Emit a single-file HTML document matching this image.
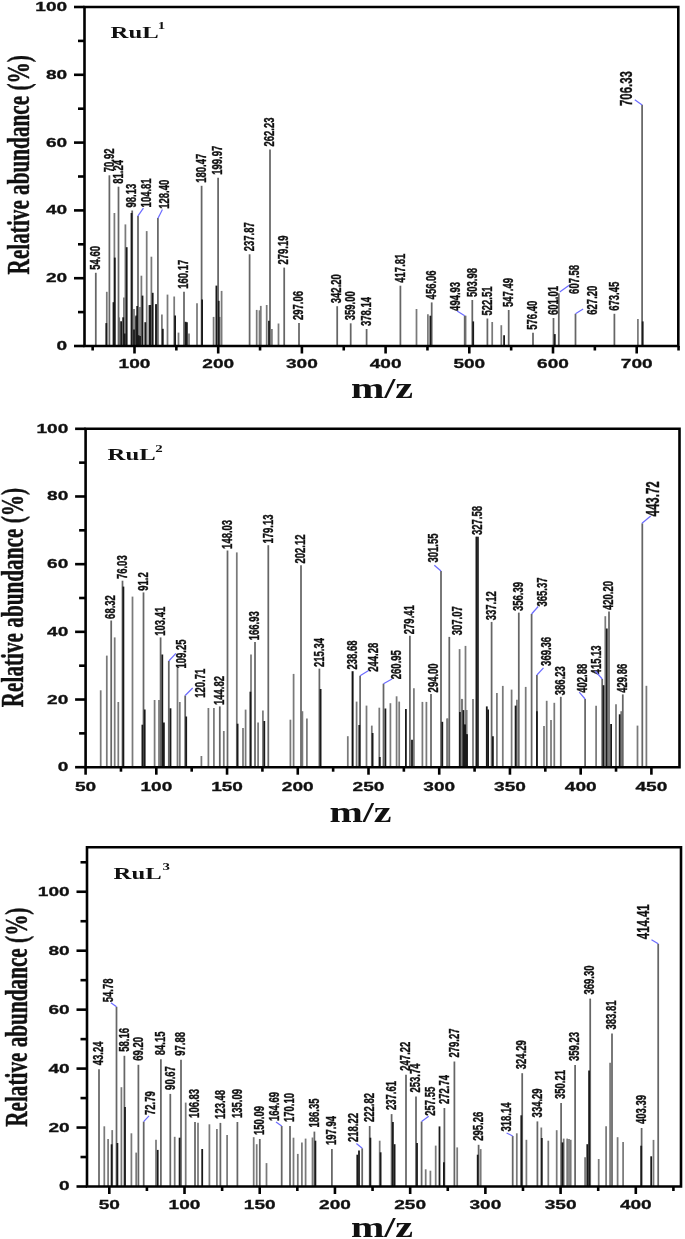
<!DOCTYPE html>
<html><head><meta charset="utf-8"><title>Mass spectra</title>
<style>
html,body{margin:0;padding:0;background:#fff;}
svg{display:block;will-change:transform;opacity:0.999;}
text{font-variant-ligatures:none;font-feature-settings:"liga" 0,"clig" 0,"dlig" 0;font-kerning:none;}
.lb{font-family:"Liberation Sans",sans-serif;font-weight:bold;fill:#111;stroke:#111;stroke-width:0.25px;}
.tk{font-family:"Liberation Sans",sans-serif;font-weight:bold;font-size:12.9px;fill:#111;stroke:#111;stroke-width:0.3px;}
.tt{font-family:"Liberation Serif",serif;font-weight:bold;font-size:17.4px;fill:#111;}
.sp{font-family:"Liberation Serif",serif;font-weight:bold;font-size:10.5px;fill:#111;}
.yl{font-family:"Liberation Serif",serif;font-weight:bold;font-size:21.23px;fill:#111;stroke:#111;stroke-width:0.3px;}
.mz{font-family:"Liberation Serif",serif;font-weight:bold;font-size:29.0px;fill:#111;}
</style></head>
<body>
<svg width="685" height="1239" viewBox="0 0 685 1239">
<rect width="685" height="1239" fill="#fff"/>
<line x1="106.8" y1="291.8" x2="106.8" y2="346" stroke="#7a7a7a" stroke-width="1.75"/>
<line x1="114.4" y1="213" x2="114.4" y2="346" stroke="#7a7a7a" stroke-width="1.75"/>
<line x1="119.2" y1="317.4" x2="119.2" y2="346" stroke="#7a7a7a" stroke-width="1.75"/>
<line x1="123.9" y1="297.5" x2="123.9" y2="346" stroke="#7a7a7a" stroke-width="1.75"/>
<line x1="125.4" y1="224.4" x2="125.4" y2="346" stroke="#7a7a7a" stroke-width="1.75"/>
<line x1="134" y1="308.9" x2="134" y2="346" stroke="#7a7a7a" stroke-width="1.75"/>
<line x1="135.9" y1="316.5" x2="135.9" y2="346" stroke="#7a7a7a" stroke-width="1.75"/>
<line x1="140" y1="307" x2="140" y2="346" stroke="#7a7a7a" stroke-width="1.75"/>
<line x1="141.4" y1="275.7" x2="141.4" y2="346" stroke="#7a7a7a" stroke-width="1.75"/>
<line x1="146.7" y1="231.1" x2="146.7" y2="346" stroke="#7a7a7a" stroke-width="1.75"/>
<line x1="151.4" y1="256.7" x2="151.4" y2="346" stroke="#7a7a7a" stroke-width="1.75"/>
<line x1="156.2" y1="304.1" x2="156.2" y2="346" stroke="#7a7a7a" stroke-width="1.75"/>
<line x1="161.9" y1="314.6" x2="161.9" y2="346" stroke="#7a7a7a" stroke-width="1.75"/>
<line x1="167.5" y1="294.6" x2="167.5" y2="346" stroke="#7a7a7a" stroke-width="1.75"/>
<line x1="174.2" y1="296.5" x2="174.2" y2="346" stroke="#7a7a7a" stroke-width="1.75"/>
<line x1="178.5" y1="332.6" x2="178.5" y2="346" stroke="#7a7a7a" stroke-width="1.75"/>
<line x1="189" y1="333.5" x2="189" y2="346" stroke="#7a7a7a" stroke-width="1.75"/>
<line x1="197" y1="303.2" x2="197" y2="346" stroke="#7a7a7a" stroke-width="1.75"/>
<line x1="213.6" y1="316.9" x2="213.6" y2="346" stroke="#7a7a7a" stroke-width="1.75"/>
<line x1="219.7" y1="316.9" x2="219.7" y2="346" stroke="#7a7a7a" stroke-width="1.75"/>
<line x1="221.6" y1="290.9" x2="221.6" y2="346" stroke="#7a7a7a" stroke-width="1.75"/>
<line x1="256.7" y1="309.9" x2="256.7" y2="346" stroke="#7a7a7a" stroke-width="1.75"/>
<line x1="259.5" y1="310.3" x2="259.5" y2="346" stroke="#7a7a7a" stroke-width="1.75"/>
<line x1="260.8" y1="305.9" x2="260.8" y2="346" stroke="#7a7a7a" stroke-width="1.75"/>
<line x1="266.7" y1="305" x2="266.7" y2="346" stroke="#7a7a7a" stroke-width="1.75"/>
<line x1="271.9" y1="328.9" x2="271.9" y2="346" stroke="#7a7a7a" stroke-width="1.75"/>
<line x1="278.5" y1="323.5" x2="278.5" y2="346" stroke="#7a7a7a" stroke-width="1.75"/>
<line x1="416.5" y1="309" x2="416.5" y2="346" stroke="#7a7a7a" stroke-width="1.75"/>
<line x1="427.9" y1="314.3" x2="427.9" y2="346" stroke="#7a7a7a" stroke-width="1.75"/>
<line x1="465.6" y1="315.7" x2="465.6" y2="346" stroke="#7a7a7a" stroke-width="1.75"/>
<line x1="492.2" y1="322" x2="492.2" y2="346" stroke="#7a7a7a" stroke-width="1.75"/>
<line x1="501.3" y1="325.2" x2="501.3" y2="346" stroke="#7a7a7a" stroke-width="1.75"/>
<line x1="637.9" y1="318.9" x2="637.9" y2="346" stroke="#7a7a7a" stroke-width="1.75"/>
<line x1="95.8" y1="272.8" x2="95.8" y2="346" stroke="#666" stroke-width="1.75"/>
<line x1="109.4" y1="175.3" x2="109.4" y2="346" stroke="#666" stroke-width="1.75"/>
<line x1="118.5" y1="186.7" x2="118.5" y2="346" stroke="#666" stroke-width="1.75"/>
<line x1="132.2" y1="210.5" x2="132.2" y2="346" stroke="#666" stroke-width="1.75"/>
<line x1="138" y1="216" x2="138" y2="346" stroke="#666" stroke-width="1.75"/>
<line x1="157.9" y1="218" x2="157.9" y2="346" stroke="#666" stroke-width="1.75"/>
<line x1="184" y1="291.8" x2="184" y2="346" stroke="#666" stroke-width="1.75"/>
<line x1="201.6" y1="185.8" x2="201.6" y2="346" stroke="#666" stroke-width="1.75"/>
<line x1="218.1" y1="177.8" x2="218.1" y2="346" stroke="#666" stroke-width="1.75"/>
<line x1="249.6" y1="254.3" x2="249.6" y2="346" stroke="#666" stroke-width="1.75"/>
<line x1="270" y1="149.5" x2="270" y2="346" stroke="#666" stroke-width="1.75"/>
<line x1="284.2" y1="267.6" x2="284.2" y2="346" stroke="#666" stroke-width="1.75"/>
<line x1="299" y1="323" x2="299" y2="346" stroke="#666" stroke-width="1.75"/>
<line x1="337.2" y1="306.2" x2="337.2" y2="346" stroke="#666" stroke-width="1.75"/>
<line x1="350.7" y1="323.3" x2="350.7" y2="346" stroke="#666" stroke-width="1.75"/>
<line x1="366.6" y1="329" x2="366.6" y2="346" stroke="#666" stroke-width="1.75"/>
<line x1="400.4" y1="285.7" x2="400.4" y2="346" stroke="#666" stroke-width="1.75"/>
<line x1="431.7" y1="302.4" x2="431.7" y2="346" stroke="#666" stroke-width="1.75"/>
<line x1="464.7" y1="315.7" x2="464.7" y2="346" stroke="#666" stroke-width="1.75"/>
<line x1="472.3" y1="300" x2="472.3" y2="346" stroke="#666" stroke-width="1.75"/>
<line x1="487.4" y1="318.5" x2="487.4" y2="346" stroke="#666" stroke-width="1.75"/>
<line x1="508.7" y1="310" x2="508.7" y2="346" stroke="#666" stroke-width="1.75"/>
<line x1="533" y1="332.7" x2="533" y2="346" stroke="#666" stroke-width="1.75"/>
<line x1="553.5" y1="318" x2="553.5" y2="346" stroke="#666" stroke-width="1.75"/>
<line x1="558.8" y1="293.3" x2="558.8" y2="346" stroke="#666" stroke-width="1.75"/>
<line x1="575.5" y1="313.8" x2="575.5" y2="346" stroke="#666" stroke-width="1.75"/>
<line x1="614.4" y1="313.8" x2="614.4" y2="346" stroke="#666" stroke-width="1.75"/>
<line x1="642.1" y1="104.8" x2="642.1" y2="346" stroke="#666" stroke-width="1.75"/>
<line x1="106.3" y1="323.1" x2="106.3" y2="346" stroke="#1a1a1a" stroke-width="1.8"/>
<line x1="114.8" y1="257.6" x2="114.8" y2="346" stroke="#1a1a1a" stroke-width="1.8"/>
<line x1="113.5" y1="302.2" x2="113.5" y2="346" stroke="#1a1a1a" stroke-width="1.8"/>
<line x1="121.1" y1="321.2" x2="121.1" y2="346" stroke="#1a1a1a" stroke-width="1.8"/>
<line x1="126.7" y1="247.2" x2="126.7" y2="346" stroke="#1a1a1a" stroke-width="1.8"/>
<line x1="124.8" y1="333.5" x2="124.8" y2="346" stroke="#1a1a1a" stroke-width="1.8"/>
<line x1="131.5" y1="213" x2="131.5" y2="346" stroke="#1a1a1a" stroke-width="1.8"/>
<line x1="137.2" y1="306" x2="137.2" y2="346" stroke="#1a1a1a" stroke-width="1.8"/>
<line x1="142.5" y1="295.6" x2="142.5" y2="346" stroke="#1a1a1a" stroke-width="1.8"/>
<line x1="145.3" y1="322.2" x2="145.3" y2="346" stroke="#1a1a1a" stroke-width="1.8"/>
<line x1="149.5" y1="305.1" x2="149.5" y2="346" stroke="#1a1a1a" stroke-width="1.8"/>
<line x1="152.7" y1="292.8" x2="152.7" y2="346" stroke="#1a1a1a" stroke-width="1.8"/>
<line x1="162.8" y1="328.8" x2="162.8" y2="346" stroke="#1a1a1a" stroke-width="1.8"/>
<line x1="175.1" y1="315.5" x2="175.1" y2="346" stroke="#1a1a1a" stroke-width="1.8"/>
<line x1="185.6" y1="321.8" x2="185.6" y2="346" stroke="#1a1a1a" stroke-width="1.8"/>
<line x1="186.9" y1="322.2" x2="186.9" y2="346" stroke="#1a1a1a" stroke-width="1.8"/>
<line x1="202.1" y1="299.4" x2="202.1" y2="346" stroke="#1a1a1a" stroke-width="1.8"/>
<line x1="216.4" y1="285.6" x2="216.4" y2="346" stroke="#1a1a1a" stroke-width="1.8"/>
<line x1="218.7" y1="300.8" x2="218.7" y2="346" stroke="#1a1a1a" stroke-width="1.8"/>
<line x1="269" y1="320.7" x2="269" y2="346" stroke="#1a1a1a" stroke-width="1.8"/>
<line x1="123.2" y1="317.3" x2="123.2" y2="346" stroke="#1a1a1a" stroke-width="1.8"/>
<line x1="134" y1="329.6" x2="134" y2="346" stroke="#1a1a1a" stroke-width="1.8"/>
<line x1="136.3" y1="315.5" x2="136.3" y2="346" stroke="#1a1a1a" stroke-width="1.8"/>
<line x1="138.6" y1="335.2" x2="138.6" y2="346" stroke="#1a1a1a" stroke-width="1.8"/>
<line x1="140" y1="336" x2="140" y2="346" stroke="#1a1a1a" stroke-width="1.8"/>
<line x1="150.3" y1="305" x2="150.3" y2="346" stroke="#1a1a1a" stroke-width="1.8"/>
<line x1="156" y1="304.2" x2="156" y2="346" stroke="#1a1a1a" stroke-width="1.8"/>
<line x1="430.4" y1="315.7" x2="430.4" y2="346" stroke="#1a1a1a" stroke-width="1.8"/>
<line x1="473.2" y1="321.4" x2="473.2" y2="346" stroke="#1a1a1a" stroke-width="1.8"/>
<line x1="504.1" y1="335.2" x2="504.1" y2="346" stroke="#1a1a1a" stroke-width="1.8"/>
<line x1="554.8" y1="334.1" x2="554.8" y2="346" stroke="#1a1a1a" stroke-width="1.8"/>
<line x1="642.7" y1="321.4" x2="642.7" y2="346" stroke="#1a1a1a" stroke-width="1.8"/>
<text transform="translate(100.03,269.8) rotate(-90) scale(1,1.52)" class="lb" font-size="9.5">54.60</text>
<text transform="translate(113.63,172.3) rotate(-90) scale(1,1.52)" class="lb" font-size="9.5">70.92</text>
<text transform="translate(122.73,183.7) rotate(-90) scale(1,1.52)" class="lb" font-size="9.5">81.24</text>
<text transform="translate(136.43,207.5) rotate(-90) scale(1,1.52)" class="lb" font-size="9.5">98.13</text>
<text transform="translate(151.43,207.4) rotate(-90) scale(1,1.52)" class="lb" font-size="9.5">104.81</text>
<line x1="137.8" y1="216.1" x2="143.4" y2="208.1" stroke="#6b6bff" stroke-width="1.2"/>
<text transform="translate(168.93,208.8) rotate(-90) scale(1,1.52)" class="lb" font-size="9.5">128.40</text>
<line x1="158" y1="218.3" x2="162.4" y2="209.6" stroke="#6b6bff" stroke-width="1.2"/>
<text transform="translate(188.23,288.8) rotate(-90) scale(1,1.52)" class="lb" font-size="9.5">160.17</text>
<text transform="translate(205.83,182.8) rotate(-90) scale(1,1.52)" class="lb" font-size="9.5">180.47</text>
<text transform="translate(222.33,174.8) rotate(-90) scale(1,1.52)" class="lb" font-size="9.5">199.97</text>
<text transform="translate(253.83,251.3) rotate(-90) scale(1,1.52)" class="lb" font-size="9.5">237.87</text>
<text transform="translate(274.23,146.5) rotate(-90) scale(1,1.52)" class="lb" font-size="9.5">262.23</text>
<text transform="translate(288.43,264.6) rotate(-90) scale(1,1.52)" class="lb" font-size="9.5">279.19</text>
<text transform="translate(303.23,320) rotate(-90) scale(1,1.52)" class="lb" font-size="9.5">297.06</text>
<text transform="translate(341.43,303.2) rotate(-90) scale(1,1.52)" class="lb" font-size="9.5">342.20</text>
<text transform="translate(354.93,320.3) rotate(-90) scale(1,1.52)" class="lb" font-size="9.5">359.00</text>
<text transform="translate(370.83,326) rotate(-90) scale(1,1.52)" class="lb" font-size="9.5">378.14</text>
<text transform="translate(404.63,282.7) rotate(-90) scale(1,1.52)" class="lb" font-size="9.5">417.81</text>
<text transform="translate(435.93,299.4) rotate(-90) scale(1,1.52)" class="lb" font-size="9.5">456.06</text>
<text transform="translate(459.93,310.9) rotate(-90) scale(1,1.52)" class="lb" font-size="9.5">494.93</text>
<line x1="464.7" y1="315.7" x2="457.1" y2="310.9" stroke="#6b6bff" stroke-width="1.2"/>
<text transform="translate(476.53,297) rotate(-90) scale(1,1.52)" class="lb" font-size="9.5">503.98</text>
<text transform="translate(491.63,315.5) rotate(-90) scale(1,1.52)" class="lb" font-size="9.5">522.51</text>
<text transform="translate(512.93,307) rotate(-90) scale(1,1.52)" class="lb" font-size="9.5">547.49</text>
<text transform="translate(537.23,329.7) rotate(-90) scale(1,1.52)" class="lb" font-size="9.5">576.40</text>
<text transform="translate(557.73,315) rotate(-90) scale(1,1.52)" class="lb" font-size="9.5">601.01</text>
<text transform="translate(579.13,293.9) rotate(-90) scale(1,1.52)" class="lb" font-size="9.5">607.58</text>
<line x1="559.7" y1="292" x2="569.2" y2="285.3" stroke="#6b6bff" stroke-width="1.2"/>
<text transform="translate(597.13,314.7) rotate(-90) scale(1,1.52)" class="lb" font-size="9.5">627.20</text>
<line x1="575.5" y1="313.8" x2="583.1" y2="309" stroke="#6b6bff" stroke-width="1.2"/>
<text transform="translate(618.63,310.8) rotate(-90) scale(1,1.52)" class="lb" font-size="9.5">673.45</text>
<text transform="translate(632.45,106) rotate(-90) scale(1,1.52)" class="lb" font-size="11.4">706.33</text>
<line x1="642.1" y1="105" x2="634.8" y2="99.8" stroke="#6b6bff" stroke-width="1.2"/>
<path d="M84.5,7 H678.3 V346 H84.5 Z" fill="none" stroke="#000" stroke-width="2.6"/>
<line x1="74" y1="346" x2="84.5" y2="346" stroke="#000" stroke-width="2.6"/>
<text transform="translate(67.2,349.98) scale(1.48,1)" class="tk" text-anchor="end">0</text>
<line x1="78" y1="312.1" x2="84.5" y2="312.1" stroke="#000" stroke-width="2.6"/>
<line x1="74" y1="278.2" x2="84.5" y2="278.2" stroke="#000" stroke-width="2.6"/>
<text transform="translate(67.2,282.18) scale(1.48,1)" class="tk" text-anchor="end">20</text>
<line x1="78" y1="244.3" x2="84.5" y2="244.3" stroke="#000" stroke-width="2.6"/>
<line x1="74" y1="210.4" x2="84.5" y2="210.4" stroke="#000" stroke-width="2.6"/>
<text transform="translate(67.2,214.38) scale(1.48,1)" class="tk" text-anchor="end">40</text>
<line x1="78" y1="176.5" x2="84.5" y2="176.5" stroke="#000" stroke-width="2.6"/>
<line x1="74" y1="142.6" x2="84.5" y2="142.6" stroke="#000" stroke-width="2.6"/>
<text transform="translate(67.2,146.58) scale(1.48,1)" class="tk" text-anchor="end">60</text>
<line x1="78" y1="108.7" x2="84.5" y2="108.7" stroke="#000" stroke-width="2.6"/>
<line x1="74" y1="74.8" x2="84.5" y2="74.8" stroke="#000" stroke-width="2.6"/>
<text transform="translate(67.2,78.78) scale(1.48,1)" class="tk" text-anchor="end">80</text>
<line x1="78" y1="40.9" x2="84.5" y2="40.9" stroke="#000" stroke-width="2.6"/>
<line x1="74" y1="7" x2="84.5" y2="7" stroke="#000" stroke-width="2.6"/>
<text transform="translate(67.2,10.98) scale(1.48,1)" class="tk" text-anchor="end">100</text>
<line x1="92.65" y1="346" x2="92.65" y2="350.5" stroke="#000" stroke-width="2.6"/>
<line x1="134.5" y1="346" x2="134.5" y2="353.5" stroke="#000" stroke-width="2.6"/>
<text transform="translate(134.5,368.38) scale(1.48,1)" class="tk" text-anchor="middle">100</text>
<line x1="176.35" y1="346" x2="176.35" y2="350.5" stroke="#000" stroke-width="2.6"/>
<line x1="218.2" y1="346" x2="218.2" y2="353.5" stroke="#000" stroke-width="2.6"/>
<text transform="translate(218.2,368.38) scale(1.48,1)" class="tk" text-anchor="middle">200</text>
<line x1="260.05" y1="346" x2="260.05" y2="350.5" stroke="#000" stroke-width="2.6"/>
<line x1="301.9" y1="346" x2="301.9" y2="353.5" stroke="#000" stroke-width="2.6"/>
<text transform="translate(301.9,368.38) scale(1.48,1)" class="tk" text-anchor="middle">300</text>
<line x1="343.75" y1="346" x2="343.75" y2="350.5" stroke="#000" stroke-width="2.6"/>
<line x1="385.6" y1="346" x2="385.6" y2="353.5" stroke="#000" stroke-width="2.6"/>
<text transform="translate(385.6,368.38) scale(1.48,1)" class="tk" text-anchor="middle">400</text>
<line x1="427.45" y1="346" x2="427.45" y2="350.5" stroke="#000" stroke-width="2.6"/>
<line x1="469.3" y1="346" x2="469.3" y2="353.5" stroke="#000" stroke-width="2.6"/>
<text transform="translate(469.3,368.38) scale(1.48,1)" class="tk" text-anchor="middle">500</text>
<line x1="511.15" y1="346" x2="511.15" y2="350.5" stroke="#000" stroke-width="2.6"/>
<line x1="553" y1="346" x2="553" y2="353.5" stroke="#000" stroke-width="2.6"/>
<text transform="translate(553,368.38) scale(1.48,1)" class="tk" text-anchor="middle">600</text>
<line x1="594.85" y1="346" x2="594.85" y2="350.5" stroke="#000" stroke-width="2.6"/>
<line x1="636.7" y1="346" x2="636.7" y2="353.5" stroke="#000" stroke-width="2.6"/>
<text transform="translate(636.7,368.38) scale(1.48,1)" class="tk" text-anchor="middle">700</text>
<line x1="678.55" y1="346" x2="678.55" y2="350.5" stroke="#000" stroke-width="2.6"/>
<text transform="translate(110.6,38.3) scale(1.42,1)" class="tt">RuL</text>
<text transform="translate(157.8,29.2) scale(1.42,1)" class="sp">1</text>
<text transform="translate(29.3,164.8) rotate(-90) scale(1,1.49)" class="yl" text-anchor="middle">Relative abundance (%)</text>
<text transform="translate(350.9,398.4) scale(1.38,1)" class="mz">m/z</text>
<line x1="100.7" y1="690.3" x2="100.7" y2="767.2" stroke="#7a7a7a" stroke-width="1.75"/>
<line x1="106.8" y1="655.6" x2="106.8" y2="767.2" stroke="#7a7a7a" stroke-width="1.75"/>
<line x1="114.7" y1="637.4" x2="114.7" y2="767.2" stroke="#7a7a7a" stroke-width="1.75"/>
<line x1="118.3" y1="702" x2="118.3" y2="767.2" stroke="#7a7a7a" stroke-width="1.75"/>
<line x1="132.5" y1="596.6" x2="132.5" y2="767.2" stroke="#7a7a7a" stroke-width="1.75"/>
<line x1="154.6" y1="700" x2="154.6" y2="767.2" stroke="#7a7a7a" stroke-width="1.75"/>
<line x1="159" y1="700" x2="159" y2="767.2" stroke="#7a7a7a" stroke-width="1.75"/>
<line x1="177.5" y1="667.4" x2="177.5" y2="767.2" stroke="#7a7a7a" stroke-width="1.75"/>
<line x1="179.8" y1="702" x2="179.8" y2="767.2" stroke="#7a7a7a" stroke-width="1.75"/>
<line x1="201.4" y1="756" x2="201.4" y2="767.2" stroke="#7a7a7a" stroke-width="1.75"/>
<line x1="208.4" y1="708" x2="208.4" y2="767.2" stroke="#7a7a7a" stroke-width="1.75"/>
<line x1="213.9" y1="708" x2="213.9" y2="767.2" stroke="#7a7a7a" stroke-width="1.75"/>
<line x1="223.8" y1="731" x2="223.8" y2="767.2" stroke="#7a7a7a" stroke-width="1.75"/>
<line x1="236.8" y1="552.4" x2="236.8" y2="767.2" stroke="#7a7a7a" stroke-width="1.75"/>
<line x1="243" y1="728" x2="243" y2="767.2" stroke="#7a7a7a" stroke-width="1.75"/>
<line x1="245.6" y1="709.6" x2="245.6" y2="767.2" stroke="#7a7a7a" stroke-width="1.75"/>
<line x1="251" y1="654.4" x2="251" y2="767.2" stroke="#7a7a7a" stroke-width="1.75"/>
<line x1="258.1" y1="722.4" x2="258.1" y2="767.2" stroke="#7a7a7a" stroke-width="1.75"/>
<line x1="262.9" y1="710.4" x2="262.9" y2="767.2" stroke="#7a7a7a" stroke-width="1.75"/>
<line x1="290.4" y1="719.7" x2="290.4" y2="767.2" stroke="#7a7a7a" stroke-width="1.75"/>
<line x1="293.6" y1="673.9" x2="293.6" y2="767.2" stroke="#7a7a7a" stroke-width="1.75"/>
<line x1="302.4" y1="711.2" x2="302.4" y2="767.2" stroke="#7a7a7a" stroke-width="1.75"/>
<line x1="306.9" y1="718.4" x2="306.9" y2="767.2" stroke="#7a7a7a" stroke-width="1.75"/>
<line x1="347.8" y1="736.2" x2="347.8" y2="767.2" stroke="#7a7a7a" stroke-width="1.75"/>
<line x1="356.6" y1="701.6" x2="356.6" y2="767.2" stroke="#7a7a7a" stroke-width="1.75"/>
<line x1="366.5" y1="705.6" x2="366.5" y2="767.2" stroke="#7a7a7a" stroke-width="1.75"/>
<line x1="371.8" y1="725.6" x2="371.8" y2="767.2" stroke="#7a7a7a" stroke-width="1.75"/>
<line x1="379.3" y1="707.7" x2="379.3" y2="767.2" stroke="#7a7a7a" stroke-width="1.75"/>
<line x1="390.4" y1="703.2" x2="390.4" y2="767.2" stroke="#7a7a7a" stroke-width="1.75"/>
<line x1="396.6" y1="696.3" x2="396.6" y2="767.2" stroke="#7a7a7a" stroke-width="1.75"/>
<line x1="399.2" y1="701.6" x2="399.2" y2="767.2" stroke="#7a7a7a" stroke-width="1.75"/>
<line x1="413.9" y1="688.3" x2="413.9" y2="767.2" stroke="#7a7a7a" stroke-width="1.75"/>
<line x1="422.4" y1="701.9" x2="422.4" y2="767.2" stroke="#7a7a7a" stroke-width="1.75"/>
<line x1="426.4" y1="701.9" x2="426.4" y2="767.2" stroke="#7a7a7a" stroke-width="1.75"/>
<line x1="447.1" y1="718.5" x2="447.1" y2="767.2" stroke="#7a7a7a" stroke-width="1.75"/>
<line x1="447.6" y1="718.5" x2="447.6" y2="767.2" stroke="#7a7a7a" stroke-width="1.75"/>
<line x1="462.2" y1="699.2" x2="462.2" y2="767.2" stroke="#7a7a7a" stroke-width="1.75"/>
<line x1="466.7" y1="710" x2="466.7" y2="767.2" stroke="#7a7a7a" stroke-width="1.75"/>
<line x1="459.6" y1="649.1" x2="459.6" y2="767.2" stroke="#7a7a7a" stroke-width="1.75"/>
<line x1="461.8" y1="698.9" x2="461.8" y2="767.2" stroke="#7a7a7a" stroke-width="1.75"/>
<line x1="465.5" y1="645.9" x2="465.5" y2="767.2" stroke="#7a7a7a" stroke-width="1.75"/>
<line x1="473" y1="698.9" x2="473" y2="767.2" stroke="#7a7a7a" stroke-width="1.75"/>
<line x1="496.9" y1="693.1" x2="496.9" y2="767.2" stroke="#7a7a7a" stroke-width="1.75"/>
<line x1="502.8" y1="685.9" x2="502.8" y2="767.2" stroke="#7a7a7a" stroke-width="1.75"/>
<line x1="511.6" y1="689.6" x2="511.6" y2="767.2" stroke="#7a7a7a" stroke-width="1.75"/>
<line x1="516.9" y1="699.7" x2="516.9" y2="767.2" stroke="#7a7a7a" stroke-width="1.75"/>
<line x1="525.7" y1="686.9" x2="525.7" y2="767.2" stroke="#7a7a7a" stroke-width="1.75"/>
<line x1="544" y1="726" x2="544" y2="767.2" stroke="#7a7a7a" stroke-width="1.75"/>
<line x1="546.7" y1="700.8" x2="546.7" y2="767.2" stroke="#7a7a7a" stroke-width="1.75"/>
<line x1="551" y1="720" x2="551" y2="767.2" stroke="#7a7a7a" stroke-width="1.75"/>
<line x1="554.3" y1="702.8" x2="554.3" y2="767.2" stroke="#7a7a7a" stroke-width="1.75"/>
<line x1="596.1" y1="705.7" x2="596.1" y2="767.2" stroke="#7a7a7a" stroke-width="1.75"/>
<line x1="605.3" y1="616.2" x2="605.3" y2="767.2" stroke="#7a7a7a" stroke-width="1.75"/>
<line x1="616" y1="704.2" x2="616" y2="767.2" stroke="#7a7a7a" stroke-width="1.75"/>
<line x1="621.2" y1="711.2" x2="621.2" y2="767.2" stroke="#7a7a7a" stroke-width="1.75"/>
<line x1="637.5" y1="725.6" x2="637.5" y2="767.2" stroke="#7a7a7a" stroke-width="1.75"/>
<line x1="646.4" y1="685.8" x2="646.4" y2="767.2" stroke="#7a7a7a" stroke-width="1.75"/>
<line x1="111.2" y1="620.5" x2="111.2" y2="767.2" stroke="#666" stroke-width="1.75"/>
<line x1="122.5" y1="580.7" x2="122.5" y2="767.2" stroke="#666" stroke-width="1.75"/>
<line x1="143.5" y1="592.4" x2="143.5" y2="767.2" stroke="#666" stroke-width="1.75"/>
<line x1="160.6" y1="637.4" x2="160.6" y2="767.2" stroke="#666" stroke-width="1.75"/>
<line x1="168.8" y1="661" x2="168.8" y2="767.2" stroke="#666" stroke-width="1.75"/>
<line x1="185.2" y1="695.5" x2="185.2" y2="767.2" stroke="#666" stroke-width="1.75"/>
<line x1="219.8" y1="706.4" x2="219.8" y2="767.2" stroke="#666" stroke-width="1.75"/>
<line x1="227.5" y1="550.5" x2="227.5" y2="767.2" stroke="#666" stroke-width="1.75"/>
<line x1="255" y1="641.9" x2="255" y2="767.2" stroke="#666" stroke-width="1.75"/>
<line x1="268.3" y1="545.2" x2="268.3" y2="767.2" stroke="#666" stroke-width="1.75"/>
<line x1="301" y1="565.2" x2="301" y2="767.2" stroke="#666" stroke-width="1.75"/>
<line x1="319.4" y1="668.6" x2="319.4" y2="767.2" stroke="#666" stroke-width="1.75"/>
<line x1="352.6" y1="671.2" x2="352.6" y2="767.2" stroke="#111" stroke-width="2.0"/>
<line x1="360.1" y1="675.7" x2="360.1" y2="767.2" stroke="#666" stroke-width="1.75"/>
<line x1="383.5" y1="683.7" x2="383.5" y2="767.2" stroke="#666" stroke-width="1.75"/>
<line x1="409.9" y1="635.8" x2="409.9" y2="767.2" stroke="#666" stroke-width="1.75"/>
<line x1="431" y1="694" x2="431" y2="767.2" stroke="#666" stroke-width="1.75"/>
<line x1="441" y1="571" x2="441" y2="767.2" stroke="#666" stroke-width="1.75"/>
<line x1="449.3" y1="636.9" x2="449.3" y2="767.2" stroke="#666" stroke-width="1.75"/>
<line x1="477.7" y1="536.7" x2="477.7" y2="767.2" stroke="#333" stroke-width="2.4"/>
<line x1="491.6" y1="621.9" x2="491.6" y2="767.2" stroke="#666" stroke-width="1.75"/>
<line x1="518.8" y1="612.6" x2="518.8" y2="767.2" stroke="#666" stroke-width="1.75"/>
<line x1="531.6" y1="614" x2="531.6" y2="767.2" stroke="#666" stroke-width="1.75"/>
<line x1="536.9" y1="675" x2="536.9" y2="767.2" stroke="#666" stroke-width="1.75"/>
<line x1="560.8" y1="696.8" x2="560.8" y2="767.2" stroke="#666" stroke-width="1.75"/>
<line x1="585.1" y1="699" x2="585.1" y2="767.2" stroke="#666" stroke-width="1.75"/>
<line x1="602.2" y1="679" x2="602.2" y2="767.2" stroke="#666" stroke-width="1.75"/>
<line x1="609" y1="611.6" x2="609" y2="767.2" stroke="#666" stroke-width="1.75"/>
<line x1="622.8" y1="694.4" x2="622.8" y2="767.2" stroke="#666" stroke-width="1.75"/>
<line x1="642.3" y1="523.3" x2="642.3" y2="767.2" stroke="#666" stroke-width="1.75"/>
<line x1="123.4" y1="586.6" x2="123.4" y2="767.2" stroke="#1a1a1a" stroke-width="1.8"/>
<line x1="142.4" y1="724.7" x2="142.4" y2="767.2" stroke="#1a1a1a" stroke-width="1.8"/>
<line x1="144.7" y1="709.5" x2="144.7" y2="767.2" stroke="#1a1a1a" stroke-width="1.8"/>
<line x1="162.3" y1="654.5" x2="162.3" y2="767.2" stroke="#1a1a1a" stroke-width="1.8"/>
<line x1="163.9" y1="722.4" x2="163.9" y2="767.2" stroke="#1a1a1a" stroke-width="1.8"/>
<line x1="170.5" y1="708.3" x2="170.5" y2="767.2" stroke="#1a1a1a" stroke-width="1.8"/>
<line x1="186.2" y1="716.5" x2="186.2" y2="767.2" stroke="#1a1a1a" stroke-width="1.8"/>
<line x1="237.6" y1="723.7" x2="237.6" y2="767.2" stroke="#1a1a1a" stroke-width="1.8"/>
<line x1="250.4" y1="691.7" x2="250.4" y2="767.2" stroke="#1a1a1a" stroke-width="1.8"/>
<line x1="264.3" y1="721" x2="264.3" y2="767.2" stroke="#1a1a1a" stroke-width="1.8"/>
<line x1="320.6" y1="689" x2="320.6" y2="767.2" stroke="#1a1a1a" stroke-width="1.8"/>
<line x1="359.3" y1="725" x2="359.3" y2="767.2" stroke="#1a1a1a" stroke-width="1.8"/>
<line x1="372.6" y1="733" x2="372.6" y2="767.2" stroke="#1a1a1a" stroke-width="1.8"/>
<line x1="379.8" y1="757" x2="379.8" y2="767.2" stroke="#1a1a1a" stroke-width="1.8"/>
<line x1="385.4" y1="708.5" x2="385.4" y2="767.2" stroke="#1a1a1a" stroke-width="1.8"/>
<line x1="405.9" y1="709" x2="405.9" y2="767.2" stroke="#1a1a1a" stroke-width="1.8"/>
<line x1="412" y1="739.7" x2="412" y2="767.2" stroke="#1a1a1a" stroke-width="1.8"/>
<line x1="442.3" y1="721.8" x2="442.3" y2="767.2" stroke="#1a1a1a" stroke-width="1.8"/>
<line x1="459.9" y1="711.9" x2="459.9" y2="767.2" stroke="#1a1a1a" stroke-width="1.8"/>
<line x1="463.4" y1="710.1" x2="463.4" y2="767.2" stroke="#1a1a1a" stroke-width="1.8"/>
<line x1="464.3" y1="724.6" x2="464.3" y2="767.2" stroke="#1a1a1a" stroke-width="1.8"/>
<line x1="465.1" y1="724.6" x2="465.1" y2="767.2" stroke="#1a1a1a" stroke-width="1.8"/>
<line x1="466.4" y1="734.3" x2="466.4" y2="767.2" stroke="#1a1a1a" stroke-width="1.8"/>
<line x1="467" y1="734.3" x2="467" y2="767.2" stroke="#1a1a1a" stroke-width="1.8"/>
<line x1="476.4" y1="536.7" x2="476.4" y2="767.2" stroke="#1a1a1a" stroke-width="1.8"/>
<line x1="486.8" y1="706.4" x2="486.8" y2="767.2" stroke="#1a1a1a" stroke-width="1.8"/>
<line x1="488.1" y1="709.6" x2="488.1" y2="767.2" stroke="#1a1a1a" stroke-width="1.8"/>
<line x1="492.9" y1="736.2" x2="492.9" y2="767.2" stroke="#1a1a1a" stroke-width="1.8"/>
<line x1="515.6" y1="705.6" x2="515.6" y2="767.2" stroke="#1a1a1a" stroke-width="1.8"/>
<line x1="536.9" y1="711.2" x2="536.9" y2="767.2" stroke="#1a1a1a" stroke-width="1.8"/>
<line x1="603.5" y1="685.2" x2="603.5" y2="767.2" stroke="#1a1a1a" stroke-width="1.8"/>
<line x1="606.8" y1="628.5" x2="606.8" y2="767.2" stroke="#1a1a1a" stroke-width="1.8"/>
<line x1="611.1" y1="724" x2="611.1" y2="767.2" stroke="#1a1a1a" stroke-width="1.8"/>
<line x1="619.7" y1="714.3" x2="619.7" y2="767.2" stroke="#1a1a1a" stroke-width="1.8"/>
<text transform="translate(115.43,618.9) rotate(-90) scale(1,1.52)" class="lb" font-size="9.5">68.32</text>
<text transform="translate(126.73,579.1) rotate(-90) scale(1,1.52)" class="lb" font-size="9.5">76.03</text>
<text transform="translate(147.73,590.8) rotate(-90) scale(1,1.52)" class="lb" font-size="9.5">91.2</text>
<text transform="translate(164.83,635.8) rotate(-90) scale(1,1.52)" class="lb" font-size="9.5">103.41</text>
<text transform="translate(185.93,668.5) rotate(-90) scale(1,1.52)" class="lb" font-size="9.5">109.25</text>
<line x1="168.8" y1="661" x2="175.9" y2="653.3" stroke="#6b6bff" stroke-width="1.2"/>
<text transform="translate(204.93,697.8) rotate(-90) scale(1,1.52)" class="lb" font-size="9.5">120.71</text>
<line x1="185.2" y1="695.5" x2="192.7" y2="688" stroke="#6b6bff" stroke-width="1.2"/>
<text transform="translate(223.73,705) rotate(-90) scale(1,1.52)" class="lb" font-size="9.5">144.82</text>
<text transform="translate(231.73,548.9) rotate(-90) scale(1,1.52)" class="lb" font-size="9.5">148.03</text>
<text transform="translate(259.23,640.3) rotate(-90) scale(1,1.52)" class="lb" font-size="9.5">166.93</text>
<text transform="translate(272.53,543.6) rotate(-90) scale(1,1.52)" class="lb" font-size="9.5">179.13</text>
<text transform="translate(305.23,563.6) rotate(-90) scale(1,1.52)" class="lb" font-size="9.5">202.12</text>
<text transform="translate(323.63,667) rotate(-90) scale(1,1.52)" class="lb" font-size="9.5">215.34</text>
<text transform="translate(356.83,669.6) rotate(-90) scale(1,1.52)" class="lb" font-size="9.5">238.68</text>
<text transform="translate(377.73,671.8) rotate(-90) scale(1,1.52)" class="lb" font-size="9.5">244.28</text>
<line x1="360.1" y1="675.7" x2="368.6" y2="670.4" stroke="#6b6bff" stroke-width="1.2"/>
<text transform="translate(400.93,679.2) rotate(-90) scale(1,1.52)" class="lb" font-size="9.5">260.95</text>
<line x1="383.5" y1="683.7" x2="392" y2="679" stroke="#6b6bff" stroke-width="1.2"/>
<text transform="translate(414.13,634.2) rotate(-90) scale(1,1.52)" class="lb" font-size="9.5">279.41</text>
<text transform="translate(437.73,692.4) rotate(-90) scale(1,1.52)" class="lb" font-size="9.5">294.00</text>
<text transform="translate(438.13,562.5) rotate(-90) scale(1,1.52)" class="lb" font-size="9.5">301.55</text>
<line x1="441" y1="571" x2="434.3" y2="565.2" stroke="#6b6bff" stroke-width="1.2"/>
<text transform="translate(461.53,635.3) rotate(-90) scale(1,1.52)" class="lb" font-size="9.5">307.07</text>
<text transform="translate(481.93,535.1) rotate(-90) scale(1,1.52)" class="lb" font-size="9.5">327.58</text>
<text transform="translate(495.83,620.3) rotate(-90) scale(1,1.52)" class="lb" font-size="9.5">337.12</text>
<text transform="translate(523.03,611) rotate(-90) scale(1,1.52)" class="lb" font-size="9.5">356.39</text>
<text transform="translate(547.33,606.5) rotate(-90) scale(1,1.52)" class="lb" font-size="9.5">365.37</text>
<line x1="531.6" y1="614" x2="538.2" y2="606.5" stroke="#6b6bff" stroke-width="1.2"/>
<text transform="translate(551.33,665.9) rotate(-90) scale(1,1.52)" class="lb" font-size="9.5">369.36</text>
<line x1="536.9" y1="675" x2="543.5" y2="667.8" stroke="#6b6bff" stroke-width="1.2"/>
<text transform="translate(565.03,695.2) rotate(-90) scale(1,1.52)" class="lb" font-size="9.5">386.23</text>
<text transform="translate(586.53,692.8) rotate(-90) scale(1,1.52)" class="lb" font-size="9.5">402.88</text>
<line x1="585.1" y1="699" x2="579.2" y2="692.2" stroke="#6b6bff" stroke-width="1.2"/>
<text transform="translate(600.93,674.4) rotate(-90) scale(1,1.52)" class="lb" font-size="9.5">415.13</text>
<line x1="602.2" y1="679" x2="595.2" y2="670.8" stroke="#6b6bff" stroke-width="1.2"/>
<text transform="translate(613.23,610) rotate(-90) scale(1,1.52)" class="lb" font-size="9.5">420.20</text>
<text transform="translate(627.03,692.8) rotate(-90) scale(1,1.52)" class="lb" font-size="9.5">429.86</text>
<text transform="translate(658.7,516.4) rotate(-90) scale(1,1.52)" class="lb" font-size="11.49">443.72</text>
<line x1="642" y1="523.3" x2="650.7" y2="516" stroke="#6b6bff" stroke-width="1.2"/>
<path d="M85.6,428.8 H679.5 V767.2 H85.6 Z" fill="none" stroke="#000" stroke-width="2.6"/>
<line x1="75.1" y1="767.2" x2="85.6" y2="767.2" stroke="#000" stroke-width="2.6"/>
<text transform="translate(68.3,771.18) scale(1.48,1)" class="tk" text-anchor="end">0</text>
<line x1="79.1" y1="733.36" x2="85.6" y2="733.36" stroke="#000" stroke-width="2.6"/>
<line x1="75.1" y1="699.52" x2="85.6" y2="699.52" stroke="#000" stroke-width="2.6"/>
<text transform="translate(68.3,703.5) scale(1.48,1)" class="tk" text-anchor="end">20</text>
<line x1="79.1" y1="665.68" x2="85.6" y2="665.68" stroke="#000" stroke-width="2.6"/>
<line x1="75.1" y1="631.84" x2="85.6" y2="631.84" stroke="#000" stroke-width="2.6"/>
<text transform="translate(68.3,635.82) scale(1.48,1)" class="tk" text-anchor="end">40</text>
<line x1="79.1" y1="598" x2="85.6" y2="598" stroke="#000" stroke-width="2.6"/>
<line x1="75.1" y1="564.16" x2="85.6" y2="564.16" stroke="#000" stroke-width="2.6"/>
<text transform="translate(68.3,568.14) scale(1.48,1)" class="tk" text-anchor="end">60</text>
<line x1="79.1" y1="530.32" x2="85.6" y2="530.32" stroke="#000" stroke-width="2.6"/>
<line x1="75.1" y1="496.48" x2="85.6" y2="496.48" stroke="#000" stroke-width="2.6"/>
<text transform="translate(68.3,500.46) scale(1.48,1)" class="tk" text-anchor="end">80</text>
<line x1="79.1" y1="462.64" x2="85.6" y2="462.64" stroke="#000" stroke-width="2.6"/>
<line x1="75.1" y1="428.8" x2="85.6" y2="428.8" stroke="#000" stroke-width="2.6"/>
<text transform="translate(68.3,432.78) scale(1.48,1)" class="tk" text-anchor="end">100</text>
<line x1="85.6" y1="767.2" x2="85.6" y2="774.7" stroke="#000" stroke-width="2.6"/>
<text transform="translate(85.6,790.58) scale(1.48,1)" class="tk" text-anchor="middle">50</text>
<line x1="120.96" y1="767.2" x2="120.96" y2="771.7" stroke="#000" stroke-width="2.6"/>
<line x1="156.32" y1="767.2" x2="156.32" y2="774.7" stroke="#000" stroke-width="2.6"/>
<text transform="translate(156.32,790.58) scale(1.48,1)" class="tk" text-anchor="middle">100</text>
<line x1="191.69" y1="767.2" x2="191.69" y2="771.7" stroke="#000" stroke-width="2.6"/>
<line x1="227.05" y1="767.2" x2="227.05" y2="774.7" stroke="#000" stroke-width="2.6"/>
<text transform="translate(227.05,790.58) scale(1.48,1)" class="tk" text-anchor="middle">150</text>
<line x1="262.41" y1="767.2" x2="262.41" y2="771.7" stroke="#000" stroke-width="2.6"/>
<line x1="297.77" y1="767.2" x2="297.77" y2="774.7" stroke="#000" stroke-width="2.6"/>
<text transform="translate(297.77,790.58) scale(1.48,1)" class="tk" text-anchor="middle">200</text>
<line x1="333.14" y1="767.2" x2="333.14" y2="771.7" stroke="#000" stroke-width="2.6"/>
<line x1="368.5" y1="767.2" x2="368.5" y2="774.7" stroke="#000" stroke-width="2.6"/>
<text transform="translate(368.5,790.58) scale(1.48,1)" class="tk" text-anchor="middle">250</text>
<line x1="403.86" y1="767.2" x2="403.86" y2="771.7" stroke="#000" stroke-width="2.6"/>
<line x1="439.23" y1="767.2" x2="439.23" y2="774.7" stroke="#000" stroke-width="2.6"/>
<text transform="translate(439.23,790.58) scale(1.48,1)" class="tk" text-anchor="middle">300</text>
<line x1="474.59" y1="767.2" x2="474.59" y2="771.7" stroke="#000" stroke-width="2.6"/>
<line x1="509.95" y1="767.2" x2="509.95" y2="774.7" stroke="#000" stroke-width="2.6"/>
<text transform="translate(509.95,790.58) scale(1.48,1)" class="tk" text-anchor="middle">350</text>
<line x1="545.31" y1="767.2" x2="545.31" y2="771.7" stroke="#000" stroke-width="2.6"/>
<line x1="580.68" y1="767.2" x2="580.68" y2="774.7" stroke="#000" stroke-width="2.6"/>
<text transform="translate(580.68,790.58) scale(1.48,1)" class="tk" text-anchor="middle">400</text>
<line x1="616.04" y1="767.2" x2="616.04" y2="771.7" stroke="#000" stroke-width="2.6"/>
<line x1="651.4" y1="767.2" x2="651.4" y2="774.7" stroke="#000" stroke-width="2.6"/>
<text transform="translate(651.4,790.58) scale(1.48,1)" class="tk" text-anchor="middle">450</text>
<text transform="translate(107.6,460.3) scale(1.42,1)" class="tt">RuL</text>
<text transform="translate(155.3,451.9) scale(1.42,1)" class="sp">2</text>
<text transform="translate(22.6,597.6) rotate(-90) scale(1,1.49)" class="yl" text-anchor="middle">Relative abundance (%)</text>
<text transform="translate(329.4,821.9) scale(1.38,1)" class="mz">m/z</text>
<line x1="104.3" y1="1126.3" x2="104.3" y2="1186.5" stroke="#7a7a7a" stroke-width="1.75"/>
<line x1="108.1" y1="1139" x2="108.1" y2="1186.5" stroke="#7a7a7a" stroke-width="1.75"/>
<line x1="112.2" y1="1130.1" x2="112.2" y2="1186.5" stroke="#7a7a7a" stroke-width="1.75"/>
<line x1="121.4" y1="1087.2" x2="121.4" y2="1186.5" stroke="#7a7a7a" stroke-width="1.75"/>
<line x1="131.4" y1="1133.3" x2="131.4" y2="1186.5" stroke="#7a7a7a" stroke-width="1.75"/>
<line x1="136.2" y1="1152.6" x2="136.2" y2="1186.5" stroke="#7a7a7a" stroke-width="1.75"/>
<line x1="156" y1="1139.8" x2="156" y2="1186.5" stroke="#7a7a7a" stroke-width="1.75"/>
<line x1="174.7" y1="1136.8" x2="174.7" y2="1186.5" stroke="#7a7a7a" stroke-width="1.75"/>
<line x1="185.7" y1="1102.6" x2="185.7" y2="1186.5" stroke="#7a7a7a" stroke-width="1.75"/>
<line x1="198" y1="1122.8" x2="198" y2="1186.5" stroke="#7a7a7a" stroke-width="1.75"/>
<line x1="209.4" y1="1124.3" x2="209.4" y2="1186.5" stroke="#7a7a7a" stroke-width="1.75"/>
<line x1="216.9" y1="1129" x2="216.9" y2="1186.5" stroke="#7a7a7a" stroke-width="1.75"/>
<line x1="227.1" y1="1135.1" x2="227.1" y2="1186.5" stroke="#7a7a7a" stroke-width="1.75"/>
<line x1="253.7" y1="1137.2" x2="253.7" y2="1186.5" stroke="#7a7a7a" stroke-width="1.75"/>
<line x1="256.7" y1="1144.2" x2="256.7" y2="1186.5" stroke="#7a7a7a" stroke-width="1.75"/>
<line x1="266.5" y1="1163.1" x2="266.5" y2="1186.5" stroke="#7a7a7a" stroke-width="1.75"/>
<line x1="293.5" y1="1137.7" x2="293.5" y2="1186.5" stroke="#7a7a7a" stroke-width="1.75"/>
<line x1="297.8" y1="1153.9" x2="297.8" y2="1186.5" stroke="#7a7a7a" stroke-width="1.75"/>
<line x1="301.9" y1="1142.6" x2="301.9" y2="1186.5" stroke="#7a7a7a" stroke-width="1.75"/>
<line x1="305.6" y1="1138.6" x2="305.6" y2="1186.5" stroke="#7a7a7a" stroke-width="1.75"/>
<line x1="312.5" y1="1137.5" x2="312.5" y2="1186.5" stroke="#7a7a7a" stroke-width="1.75"/>
<line x1="379.7" y1="1140.7" x2="379.7" y2="1186.5" stroke="#7a7a7a" stroke-width="1.75"/>
<line x1="425.7" y1="1169.3" x2="425.7" y2="1186.5" stroke="#7a7a7a" stroke-width="1.75"/>
<line x1="430.4" y1="1170.7" x2="430.4" y2="1186.5" stroke="#7a7a7a" stroke-width="1.75"/>
<line x1="435.7" y1="1145.6" x2="435.7" y2="1186.5" stroke="#7a7a7a" stroke-width="1.75"/>
<line x1="457.2" y1="1147.4" x2="457.2" y2="1186.5" stroke="#7a7a7a" stroke-width="1.75"/>
<line x1="480.7" y1="1149.1" x2="480.7" y2="1186.5" stroke="#7a7a7a" stroke-width="1.75"/>
<line x1="516.8" y1="1133.3" x2="516.8" y2="1186.5" stroke="#7a7a7a" stroke-width="1.75"/>
<line x1="526.4" y1="1139.8" x2="526.4" y2="1186.5" stroke="#7a7a7a" stroke-width="1.75"/>
<line x1="541.3" y1="1127.5" x2="541.3" y2="1186.5" stroke="#7a7a7a" stroke-width="1.75"/>
<line x1="548.3" y1="1140.7" x2="548.3" y2="1186.5" stroke="#7a7a7a" stroke-width="1.75"/>
<line x1="556.7" y1="1130.2" x2="556.7" y2="1186.5" stroke="#7a7a7a" stroke-width="1.75"/>
<line x1="563.7" y1="1138.6" x2="563.7" y2="1186.5" stroke="#7a7a7a" stroke-width="1.75"/>
<line x1="567.2" y1="1138.6" x2="567.2" y2="1186.5" stroke="#7a7a7a" stroke-width="1.75"/>
<line x1="569" y1="1138.9" x2="569" y2="1186.5" stroke="#7a7a7a" stroke-width="1.75"/>
<line x1="570.7" y1="1139.8" x2="570.7" y2="1186.5" stroke="#7a7a7a" stroke-width="1.75"/>
<line x1="585.1" y1="1157.3" x2="585.1" y2="1186.5" stroke="#7a7a7a" stroke-width="1.75"/>
<line x1="598.7" y1="1159" x2="598.7" y2="1186.5" stroke="#7a7a7a" stroke-width="1.75"/>
<line x1="606.1" y1="1126.3" x2="606.1" y2="1186.5" stroke="#7a7a7a" stroke-width="1.75"/>
<line x1="610.1" y1="1062.7" x2="610.1" y2="1186.5" stroke="#7a7a7a" stroke-width="1.75"/>
<line x1="617.6" y1="1137.2" x2="617.6" y2="1186.5" stroke="#7a7a7a" stroke-width="1.75"/>
<line x1="623.1" y1="1142" x2="623.1" y2="1186.5" stroke="#7a7a7a" stroke-width="1.75"/>
<line x1="653.5" y1="1139.9" x2="653.5" y2="1186.5" stroke="#7a7a7a" stroke-width="1.75"/>
<line x1="99" y1="1069.3" x2="99" y2="1186.5" stroke="#666" stroke-width="1.75"/>
<line x1="116.5" y1="1006.8" x2="116.5" y2="1186.5" stroke="#666" stroke-width="1.75"/>
<line x1="124.4" y1="1055.8" x2="124.4" y2="1186.5" stroke="#666" stroke-width="1.75"/>
<line x1="138.4" y1="1064.8" x2="138.4" y2="1186.5" stroke="#666" stroke-width="1.75"/>
<line x1="143.7" y1="1121.6" x2="143.7" y2="1186.5" stroke="#666" stroke-width="1.75"/>
<line x1="160.9" y1="1059.3" x2="160.9" y2="1186.5" stroke="#666" stroke-width="1.75"/>
<line x1="170.3" y1="1093.9" x2="170.3" y2="1186.5" stroke="#666" stroke-width="1.75"/>
<line x1="181" y1="1059.8" x2="181" y2="1186.5" stroke="#666" stroke-width="1.75"/>
<line x1="195" y1="1121.9" x2="195" y2="1186.5" stroke="#666" stroke-width="1.75"/>
<line x1="220.4" y1="1122.9" x2="220.4" y2="1186.5" stroke="#666" stroke-width="1.75"/>
<line x1="237.4" y1="1122" x2="237.4" y2="1186.5" stroke="#666" stroke-width="1.75"/>
<line x1="259.8" y1="1139" x2="259.8" y2="1186.5" stroke="#666" stroke-width="1.75"/>
<line x1="281.7" y1="1126" x2="281.7" y2="1186.5" stroke="#666" stroke-width="1.75"/>
<line x1="290" y1="1126" x2="290" y2="1186.5" stroke="#666" stroke-width="1.75"/>
<line x1="314.4" y1="1131.6" x2="314.4" y2="1186.5" stroke="#666" stroke-width="1.75"/>
<line x1="331.9" y1="1149.1" x2="331.9" y2="1186.5" stroke="#666" stroke-width="1.75"/>
<line x1="362.2" y1="1148.3" x2="362.2" y2="1186.5" stroke="#666" stroke-width="1.75"/>
<line x1="369.7" y1="1126" x2="369.7" y2="1186.5" stroke="#666" stroke-width="1.75"/>
<line x1="391.6" y1="1114.1" x2="391.6" y2="1186.5" stroke="#666" stroke-width="1.75"/>
<line x1="406" y1="1074.7" x2="406" y2="1186.5" stroke="#666" stroke-width="1.75"/>
<line x1="416" y1="1096.6" x2="416" y2="1186.5" stroke="#666" stroke-width="1.75"/>
<line x1="421.6" y1="1121.5" x2="421.6" y2="1186.5" stroke="#666" stroke-width="1.75"/>
<line x1="444.4" y1="1108" x2="444.4" y2="1186.5" stroke="#666" stroke-width="1.75"/>
<line x1="454.4" y1="1061.5" x2="454.4" y2="1186.5" stroke="#666" stroke-width="1.75"/>
<line x1="478.6" y1="1144.8" x2="478.6" y2="1186.5" stroke="#666" stroke-width="1.75"/>
<line x1="512.7" y1="1136" x2="512.7" y2="1186.5" stroke="#666" stroke-width="1.75"/>
<line x1="522.2" y1="1073.2" x2="522.2" y2="1186.5" stroke="#666" stroke-width="1.75"/>
<line x1="537.4" y1="1121.4" x2="537.4" y2="1186.5" stroke="#666" stroke-width="1.75"/>
<line x1="561.1" y1="1103" x2="561.1" y2="1186.5" stroke="#666" stroke-width="1.75"/>
<line x1="575.1" y1="1065" x2="575.1" y2="1186.5" stroke="#666" stroke-width="1.75"/>
<line x1="590.2" y1="998.6" x2="590.2" y2="1186.5" stroke="#666" stroke-width="1.75"/>
<line x1="612" y1="1033.6" x2="612" y2="1186.5" stroke="#666" stroke-width="1.75"/>
<line x1="641.6" y1="1128" x2="641.6" y2="1186.5" stroke="#666" stroke-width="1.75"/>
<line x1="658.2" y1="943.8" x2="658.2" y2="1186.5" stroke="#666" stroke-width="1.75"/>
<line x1="111.6" y1="1144.3" x2="111.6" y2="1186.5" stroke="#1a1a1a" stroke-width="1.8"/>
<line x1="117.4" y1="1143" x2="117.4" y2="1186.5" stroke="#1a1a1a" stroke-width="1.8"/>
<line x1="125" y1="1107" x2="125" y2="1186.5" stroke="#1a1a1a" stroke-width="1.8"/>
<line x1="157.7" y1="1149.9" x2="157.7" y2="1186.5" stroke="#1a1a1a" stroke-width="1.8"/>
<line x1="179.6" y1="1137.7" x2="179.6" y2="1186.5" stroke="#1a1a1a" stroke-width="1.8"/>
<line x1="202.2" y1="1149" x2="202.2" y2="1186.5" stroke="#1a1a1a" stroke-width="1.8"/>
<line x1="315.4" y1="1140.7" x2="315.4" y2="1186.5" stroke="#1a1a1a" stroke-width="1.8"/>
<line x1="357.3" y1="1154.7" x2="357.3" y2="1186.5" stroke="#1a1a1a" stroke-width="1.8"/>
<line x1="359" y1="1150.5" x2="359" y2="1186.5" stroke="#1a1a1a" stroke-width="1.8"/>
<line x1="370.4" y1="1137.7" x2="370.4" y2="1186.5" stroke="#1a1a1a" stroke-width="1.8"/>
<line x1="380.6" y1="1152.3" x2="380.6" y2="1186.5" stroke="#1a1a1a" stroke-width="1.8"/>
<line x1="392.9" y1="1122" x2="392.9" y2="1186.5" stroke="#1a1a1a" stroke-width="1.8"/>
<line x1="394.6" y1="1144.2" x2="394.6" y2="1186.5" stroke="#1a1a1a" stroke-width="1.8"/>
<line x1="417" y1="1143" x2="417" y2="1186.5" stroke="#1a1a1a" stroke-width="1.8"/>
<line x1="439.5" y1="1126.4" x2="439.5" y2="1186.5" stroke="#1a1a1a" stroke-width="1.8"/>
<line x1="443.9" y1="1162.3" x2="443.9" y2="1186.5" stroke="#1a1a1a" stroke-width="1.8"/>
<line x1="477.7" y1="1154.7" x2="477.7" y2="1186.5" stroke="#1a1a1a" stroke-width="1.8"/>
<line x1="521.3" y1="1115.3" x2="521.3" y2="1186.5" stroke="#1a1a1a" stroke-width="1.8"/>
<line x1="541.8" y1="1138" x2="541.8" y2="1186.5" stroke="#1a1a1a" stroke-width="1.8"/>
<line x1="562.5" y1="1142.4" x2="562.5" y2="1186.5" stroke="#1a1a1a" stroke-width="1.8"/>
<line x1="587.3" y1="1144.2" x2="587.3" y2="1186.5" stroke="#1a1a1a" stroke-width="1.8"/>
<line x1="589.1" y1="1070.6" x2="589.1" y2="1186.5" stroke="#1a1a1a" stroke-width="1.8"/>
<line x1="641.2" y1="1145.7" x2="641.2" y2="1186.5" stroke="#1a1a1a" stroke-width="1.8"/>
<line x1="651.2" y1="1156.3" x2="651.2" y2="1186.5" stroke="#1a1a1a" stroke-width="1.8"/>
<text transform="translate(103.23,1065.3) rotate(-90) scale(1,1.52)" class="lb" font-size="9.5">43.24</text>
<text transform="translate(113.43,1002.2) rotate(-90) scale(1,1.52)" class="lb" font-size="9.5">54.78</text>
<line x1="116.5" y1="1006.8" x2="110.9" y2="1002.7" stroke="#6b6bff" stroke-width="1.2"/>
<text transform="translate(128.63,1051.8) rotate(-90) scale(1,1.52)" class="lb" font-size="9.5">58.16</text>
<text transform="translate(142.63,1060.8) rotate(-90) scale(1,1.52)" class="lb" font-size="9.5">69.20</text>
<text transform="translate(154.93,1115) rotate(-90) scale(1,1.52)" class="lb" font-size="9.5">72.79</text>
<line x1="143.7" y1="1121.6" x2="149" y2="1115.8" stroke="#6b6bff" stroke-width="1.2"/>
<text transform="translate(165.13,1055.3) rotate(-90) scale(1,1.52)" class="lb" font-size="9.5">84.15</text>
<text transform="translate(174.53,1089.9) rotate(-90) scale(1,1.52)" class="lb" font-size="9.5">90.67</text>
<text transform="translate(185.23,1055.8) rotate(-90) scale(1,1.52)" class="lb" font-size="9.5">97.88</text>
<text transform="translate(199.23,1117.9) rotate(-90) scale(1,1.52)" class="lb" font-size="9.5">106.83</text>
<text transform="translate(224.63,1118.9) rotate(-90) scale(1,1.52)" class="lb" font-size="9.5">123.48</text>
<text transform="translate(241.63,1118) rotate(-90) scale(1,1.52)" class="lb" font-size="9.5">135.09</text>
<text transform="translate(264.03,1135) rotate(-90) scale(1,1.52)" class="lb" font-size="9.5">150.09</text>
<text transform="translate(278.93,1121.1) rotate(-90) scale(1,1.52)" class="lb" font-size="9.5">164.69</text>
<line x1="281.7" y1="1126" x2="276" y2="1122" stroke="#6b6bff" stroke-width="1.2"/>
<text transform="translate(294.23,1122) rotate(-90) scale(1,1.52)" class="lb" font-size="9.5">170.10</text>
<text transform="translate(318.63,1127.6) rotate(-90) scale(1,1.52)" class="lb" font-size="9.5">186.35</text>
<text transform="translate(336.13,1145.1) rotate(-90) scale(1,1.52)" class="lb" font-size="9.5">197.94</text>
<text transform="translate(357.73,1142) rotate(-90) scale(1,1.52)" class="lb" font-size="9.5">218.22</text>
<line x1="362.2" y1="1148.3" x2="356.4" y2="1143.5" stroke="#6b6bff" stroke-width="1.2"/>
<text transform="translate(373.93,1122) rotate(-90) scale(1,1.52)" class="lb" font-size="9.5">222.82</text>
<text transform="translate(395.83,1110.1) rotate(-90) scale(1,1.52)" class="lb" font-size="9.5">237.61</text>
<text transform="translate(410.23,1070.7) rotate(-90) scale(1,1.52)" class="lb" font-size="9.5">247.22</text>
<text transform="translate(420.23,1092.6) rotate(-90) scale(1,1.52)" class="lb" font-size="9.5">253.74</text>
<text transform="translate(434.63,1115.8) rotate(-90) scale(1,1.52)" class="lb" font-size="9.5">257.55</text>
<line x1="421.6" y1="1121.5" x2="428.7" y2="1116.2" stroke="#6b6bff" stroke-width="1.2"/>
<text transform="translate(448.63,1104) rotate(-90) scale(1,1.52)" class="lb" font-size="9.5">272.74</text>
<text transform="translate(458.63,1057.5) rotate(-90) scale(1,1.52)" class="lb" font-size="9.5">279.27</text>
<text transform="translate(482.83,1140.8) rotate(-90) scale(1,1.52)" class="lb" font-size="9.5">295.26</text>
<text transform="translate(511.43,1131.6) rotate(-90) scale(1,1.52)" class="lb" font-size="9.5">318.14</text>
<line x1="512.7" y1="1136" x2="506.6" y2="1133" stroke="#6b6bff" stroke-width="1.2"/>
<text transform="translate(526.43,1069.2) rotate(-90) scale(1,1.52)" class="lb" font-size="9.5">324.29</text>
<text transform="translate(541.63,1117.4) rotate(-90) scale(1,1.52)" class="lb" font-size="9.5">334.29</text>
<text transform="translate(565.33,1099) rotate(-90) scale(1,1.52)" class="lb" font-size="9.5">350.21</text>
<text transform="translate(579.33,1061) rotate(-90) scale(1,1.52)" class="lb" font-size="9.5">359.23</text>
<text transform="translate(594.43,994.6) rotate(-90) scale(1,1.52)" class="lb" font-size="9.5">369.30</text>
<text transform="translate(616.23,1029.6) rotate(-90) scale(1,1.52)" class="lb" font-size="9.5">383.81</text>
<text transform="translate(645.83,1124) rotate(-90) scale(1,1.52)" class="lb" font-size="9.5">403.39</text>
<text transform="translate(649.15,939.2) rotate(-90) scale(1,1.52)" class="lb" font-size="11.4">414.41</text>
<line x1="658.2" y1="943.8" x2="651.5" y2="939.7" stroke="#6b6bff" stroke-width="1.2"/>
<path d="M87,847.3 H681 V1186.5 H87 Z" fill="none" stroke="#000" stroke-width="2.6"/>
<line x1="76.5" y1="1186.5" x2="87" y2="1186.5" stroke="#000" stroke-width="2.6"/>
<text transform="translate(69.7,1190.48) scale(1.48,1)" class="tk" text-anchor="end">0</text>
<line x1="80.5" y1="1157.03" x2="87" y2="1157.03" stroke="#000" stroke-width="2.6"/>
<line x1="76.5" y1="1127.55" x2="87" y2="1127.55" stroke="#000" stroke-width="2.6"/>
<text transform="translate(69.7,1131.53) scale(1.48,1)" class="tk" text-anchor="end">20</text>
<line x1="80.5" y1="1098.08" x2="87" y2="1098.08" stroke="#000" stroke-width="2.6"/>
<line x1="76.5" y1="1068.6" x2="87" y2="1068.6" stroke="#000" stroke-width="2.6"/>
<text transform="translate(69.7,1072.58) scale(1.48,1)" class="tk" text-anchor="end">40</text>
<line x1="80.5" y1="1039.12" x2="87" y2="1039.12" stroke="#000" stroke-width="2.6"/>
<line x1="76.5" y1="1009.65" x2="87" y2="1009.65" stroke="#000" stroke-width="2.6"/>
<text transform="translate(69.7,1013.63) scale(1.48,1)" class="tk" text-anchor="end">60</text>
<line x1="80.5" y1="980.17" x2="87" y2="980.17" stroke="#000" stroke-width="2.6"/>
<line x1="76.5" y1="950.7" x2="87" y2="950.7" stroke="#000" stroke-width="2.6"/>
<text transform="translate(69.7,954.68) scale(1.48,1)" class="tk" text-anchor="end">80</text>
<line x1="80.5" y1="921.22" x2="87" y2="921.22" stroke="#000" stroke-width="2.6"/>
<line x1="76.5" y1="891.75" x2="87" y2="891.75" stroke="#000" stroke-width="2.6"/>
<text transform="translate(69.7,895.73) scale(1.48,1)" class="tk" text-anchor="end">100</text>
<line x1="80.5" y1="862.27" x2="87" y2="862.27" stroke="#000" stroke-width="2.6"/>
<line x1="109.3" y1="1186.5" x2="109.3" y2="1194" stroke="#000" stroke-width="2.6"/>
<text transform="translate(109.3,1209.38) scale(1.48,1)" class="tk" text-anchor="middle">50</text>
<line x1="146.91" y1="1186.5" x2="146.91" y2="1191" stroke="#000" stroke-width="2.6"/>
<line x1="184.51" y1="1186.5" x2="184.51" y2="1194" stroke="#000" stroke-width="2.6"/>
<text transform="translate(184.51,1209.38) scale(1.48,1)" class="tk" text-anchor="middle">100</text>
<line x1="222.12" y1="1186.5" x2="222.12" y2="1191" stroke="#000" stroke-width="2.6"/>
<line x1="259.73" y1="1186.5" x2="259.73" y2="1194" stroke="#000" stroke-width="2.6"/>
<text transform="translate(259.73,1209.38) scale(1.48,1)" class="tk" text-anchor="middle">150</text>
<line x1="297.34" y1="1186.5" x2="297.34" y2="1191" stroke="#000" stroke-width="2.6"/>
<line x1="334.94" y1="1186.5" x2="334.94" y2="1194" stroke="#000" stroke-width="2.6"/>
<text transform="translate(334.94,1209.38) scale(1.48,1)" class="tk" text-anchor="middle">200</text>
<line x1="372.55" y1="1186.5" x2="372.55" y2="1191" stroke="#000" stroke-width="2.6"/>
<line x1="410.16" y1="1186.5" x2="410.16" y2="1194" stroke="#000" stroke-width="2.6"/>
<text transform="translate(410.16,1209.38) scale(1.48,1)" class="tk" text-anchor="middle">250</text>
<line x1="447.77" y1="1186.5" x2="447.77" y2="1191" stroke="#000" stroke-width="2.6"/>
<line x1="485.38" y1="1186.5" x2="485.38" y2="1194" stroke="#000" stroke-width="2.6"/>
<text transform="translate(485.38,1209.38) scale(1.48,1)" class="tk" text-anchor="middle">300</text>
<line x1="522.98" y1="1186.5" x2="522.98" y2="1191" stroke="#000" stroke-width="2.6"/>
<line x1="560.59" y1="1186.5" x2="560.59" y2="1194" stroke="#000" stroke-width="2.6"/>
<text transform="translate(560.59,1209.38) scale(1.48,1)" class="tk" text-anchor="middle">350</text>
<line x1="598.2" y1="1186.5" x2="598.2" y2="1191" stroke="#000" stroke-width="2.6"/>
<line x1="635.8" y1="1186.5" x2="635.8" y2="1194" stroke="#000" stroke-width="2.6"/>
<text transform="translate(635.8,1209.38) scale(1.48,1)" class="tk" text-anchor="middle">400</text>
<line x1="673.41" y1="1186.5" x2="673.41" y2="1191" stroke="#000" stroke-width="2.6"/>
<text transform="translate(113.6,878.8) scale(1.42,1)" class="tt">RuL</text>
<text transform="translate(162.5,870.4) scale(1.42,1)" class="sp">3</text>
<text transform="translate(27.4,1017.2) rotate(-90) scale(1,1.49)" class="yl" text-anchor="middle">Relative abundance (%)</text>
<text transform="translate(350.9,1237.2) scale(1.38,1)" class="mz">m/z</text>
</svg>
</body></html>
